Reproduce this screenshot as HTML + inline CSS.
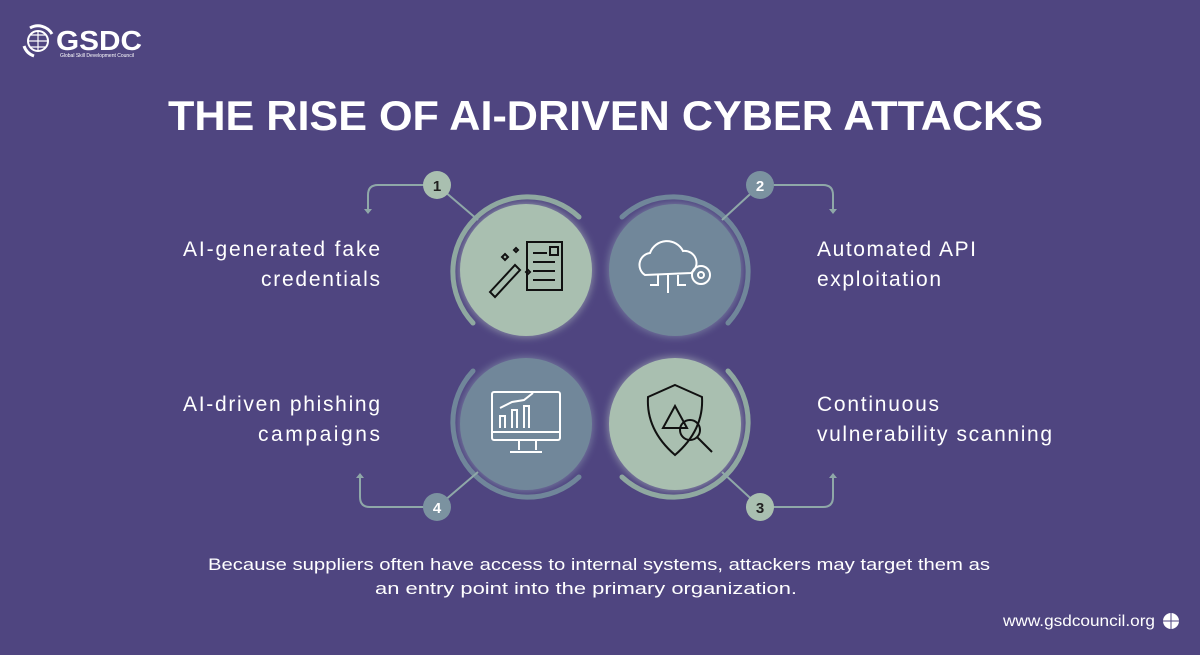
<!DOCTYPE html>
<html><head><meta charset="utf-8"><style>
body{margin:0;width:1200px;height:650px;background:#4f4580;overflow:hidden;font-family:"Liberation Sans",sans-serif}
</style></head><body>
<svg width="1200" height="650" viewBox="0 0 1200 650" xmlns="http://www.w3.org/2000/svg" font-family="Liberation Sans, sans-serif">
<rect width="1200" height="650" fill="#4f4580"/>
<defs><filter id="g" x="-30%" y="-30%" width="160%" height="160%"><feGaussianBlur stdDeviation="4"/></filter></defs>
<!-- logo -->
<circle cx="38" cy="41" r="10" fill="none" stroke="#fff" stroke-width="2"/>
<path d="M28 41h20M38 31v20M31 35h14M31 47h14" stroke="#fff" stroke-width="1.2"/>
<path d="M30 28 A16 16 0 0 1 52 34" fill="none" stroke="#fff" stroke-width="3"/>
<path d="M24 46 A16 16 0 0 0 34 56" fill="none" stroke="#fff" stroke-width="3"/>
<text x="56" y="50" font-size="28" font-weight="bold" fill="#fff" textLength="86" lengthAdjust="spacingAndGlyphs">GSDC</text>
<text x="60" y="57" font-size="5" fill="#fff">Global Skill Development Council</text>
<!-- title -->
<text x="168" y="130" font-size="42" font-weight="bold" fill="#fff" textLength="875" lengthAdjust="spacingAndGlyphs">THE RISE OF AI-DRIVEN CYBER ATTACKS</text>
<!-- glows -->
<g filter="url(#g)" opacity="0.5">
<circle cx="526" cy="270" r="67" fill="#c9dccf"/><circle cx="675" cy="270" r="67" fill="#9fb3c0"/>
<circle cx="526" cy="424" r="67" fill="#9fb3c0"/><circle cx="675" cy="424" r="67" fill="#c9dccf"/>
</g>
<circle cx="526" cy="270" r="66" fill="#a9bfb0"/>
<circle cx="675" cy="270" r="66" fill="#71879a"/>
<circle cx="526" cy="424" r="66" fill="#71879a"/>
<circle cx="675" cy="424" r="66" fill="#a9bfb0"/>
<!-- arcs -->
<g fill="none" stroke-width="5" stroke-linecap="round">
<path d="M473 323 A75 75 0 0 1 579 217" stroke="#8fa8a0"/>
<path d="M622 217 A75 75 0 0 1 728 323" stroke="#70869a"/>
<path d="M728 371 A75 75 0 0 1 622 477" stroke="#8fa8a0"/>
<path d="M579 477 A75 75 0 0 1 473 371" stroke="#70869a"/>
</g>
<!-- connectors -->
<g fill="none" stroke="#8fa8a8" stroke-width="2">
<path d="M437 185 L478 220"/><path d="M760 185 L722 220"/>
<path d="M760 507 L722 472"/><path d="M437 507 L478 472"/>
<path d="M424 185 H378 Q368 185 368 195 V212"/>
<path d="M773 185 H823 Q833 185 833 195 V212"/>
<path d="M773 507 H823 Q833 507 833 497 V475"/>
<path d="M424 507 H370 Q360 507 360 497 V475"/>
</g>
<g fill="#8fa8a8">
<path d="M364 209 L368 214 L372 209Z"/><path d="M829 209 L833 214 L837 209Z"/>
<path d="M829 478 L833 473 L837 478Z"/><path d="M356 478 L360 473 L364 478Z"/>
</g>
<g font-size="15" font-weight="bold" fill="#222" text-anchor="middle">
<circle cx="437" cy="185" r="14" fill="#a9bfb0"/><text x="437" y="191">1</text>
<circle cx="760" cy="185" r="14" fill="#7b92a0"/><text x="760" y="191" fill="#fff">2</text>
<circle cx="760" cy="507" r="14" fill="#a9bfb0"/><text x="760" y="513">3</text>
<circle cx="437" cy="507" r="14" fill="#7b92a0"/><text x="437" y="513" fill="#fff">4</text>
</g>
<!-- icon1 -->
<g fill="none" stroke="#111" stroke-width="2">
<rect x="527" y="242" width="35" height="48"/><path d="M533 253h14M533 262h22M533 271h22M533 280h22"/><rect x="550" y="247" width="8" height="8"/>
<path d="M490 292 L515 265 L520 270 L495 297Z"/>
<path d="M505 254l3 3-3 3-3-3z M516 248l2 2-2 2-2-2z M528 270l2 2-2 2-2-2z"/>
</g>
<!-- icon2 -->
<g fill="none" stroke="#fff" stroke-width="2">
<path d="M645 275 a12 12 0 0 1 5-22 a18 18 0 0 1 33-2 a12 12 0 0 1 8 22 z"/>
<path d="M658 275v10h-8M668 275v18M678 275v10h8"/>
<circle cx="701" cy="275" r="9"/><circle cx="701" cy="275" r="3"/>
</g>
<!-- icon4 -->
<g fill="none" stroke="#fff" stroke-width="2">
<rect x="492" y="392" width="68" height="48" rx="2"/><path d="M492 432h68M519 440v10M536 440v10M510 452h32"/>
<path d="M500 428v-12h5v12M512 428v-18h5v18M524 428v-22h5v22"/>
<path d="M500 408 L512 402 L524 400 L533 393"/>
</g>
<!-- icon3 -->
<g fill="none" stroke="#111" stroke-width="2">
<path d="M675 385 L702 397 Q704 430 675 455 Q646 430 648 397 Z"/>
<path d="M663 428 L675 406 L687 428 Z"/>
<circle cx="690" cy="430" r="10"/><path d="M697 437 L712 452"/>
</g>
<!-- labels -->
<g font-size="21" fill="#fff" lengthAdjust="spacingAndGlyphs">
<text x="183" y="256" textLength="197">AI-generated fake</text>
<text x="261" y="286" textLength="119">credentials</text>
<text x="817" y="256" textLength="159">Automated API</text>
<text x="817" y="286" textLength="124">exploitation</text>
<text x="183" y="411" textLength="197">AI-driven phishing</text>
<text x="258" y="441" textLength="122">campaigns</text>
<text x="817" y="411" textLength="122">Continuous</text>
<text x="817" y="441" textLength="235">vulnerability scanning</text>
</g>
<g font-size="17" fill="#fff">
<text x="208" y="570" textLength="782" lengthAdjust="spacingAndGlyphs">Because suppliers often have access to internal systems, attackers may target them as</text>
<text x="375" y="594" textLength="422" lengthAdjust="spacingAndGlyphs">an entry point into the primary organization.</text>
</g>
<text x="1003" y="626" font-size="16" fill="#fff" textLength="152" lengthAdjust="spacingAndGlyphs">www.gsdcouncil.org</text>
<circle cx="1171" cy="621" r="8" fill="#fff"/>
<path d="M1163 621h16M1171 613v16" stroke="#4f4580" stroke-width="1"/>
</svg>
</body></html>
